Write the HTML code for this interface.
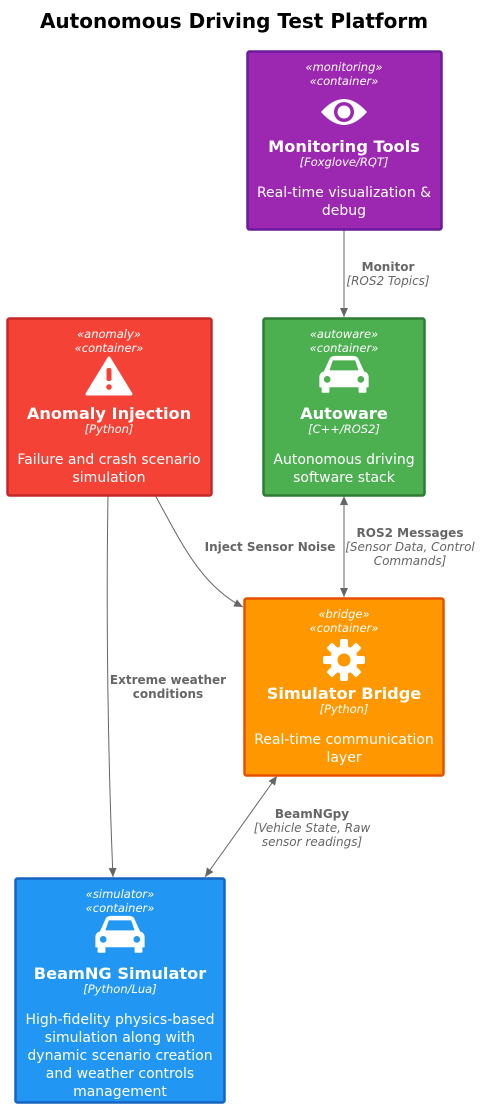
<!DOCTYPE html>
<html><head><meta charset="utf-8"><style>
html,body{margin:0;padding:0;background:#fff;}
svg{display:block;font-family:"DejaVu Sans","Liberation Sans",sans-serif;}
.st{font-size:11.5px;font-style:italic;fill:#fff;}
.tt{font-size:16.2px;font-weight:bold;fill:#fff;}
.tc{font-size:11.5px;font-style:italic;fill:#fff;}
.ds{font-size:14px;fill:#fff;}
.el{font-size:12px;font-weight:bold;fill:#666;}
.ei{font-size:12px;font-style:italic;fill:#666;}
</style></head><body>
<svg width="481" height="1109" viewBox="0 0 481 1109">
<defs><marker id="a" markerWidth="10" markerHeight="10" refX="9" refY="5" orient="auto" markerUnits="userSpaceOnUse"><path d="M0,1 L9,5 L0,9 Z" fill="#666"/></marker>
<marker id="b" markerWidth="10" markerHeight="10" refX="1" refY="5" orient="auto" markerUnits="userSpaceOnUse"><path d="M10,1 L1,5 L10,9 Z" fill="#666"/></marker></defs>
<text x="234" y="28" text-anchor="middle" font-size="20" font-weight="bold" fill="#000">Autonomous Driving Test Platform</text>

<line x1="344" y1="229" x2="344" y2="317" stroke="#666" marker-end="url(#a)"/>
<text x="388" y="271" text-anchor="middle" class="el">Monitor</text>
<text x="388" y="285" text-anchor="middle" class="ei">[ROS2 Topics]</text>

<line x1="344" y1="496" x2="344" y2="597" stroke="#666" marker-start="url(#b)" marker-end="url(#a)"/>
<text x="410" y="537" text-anchor="middle" class="el">ROS2 Messages</text>
<text x="410" y="551" text-anchor="middle" class="ei">[Sensor Data, Control</text>
<text x="410" y="565" text-anchor="middle" class="ei">Commands]</text>

<path d="M155,495 C180,540 200,585 243,607" fill="none" stroke="#666" marker-end="url(#a)"/>
<text x="270" y="551" text-anchor="middle" class="el">Inject Sensor Noise</text>

<path d="M108,495 C106,620 108,760 113,877" fill="none" stroke="#666" marker-end="url(#a)"/>
<text x="168" y="684" text-anchor="middle" class="el">Extreme weather</text>
<text x="168" y="698" text-anchor="middle" class="el">conditions</text>

<line x1="277" y1="776" x2="205" y2="877" stroke="#666" marker-start="url(#b)" marker-end="url(#a)"/>
<text x="312" y="818" text-anchor="middle" class="el">BeamNGpy</text>
<text x="312" y="832" text-anchor="middle" class="ei">[Vehicle State, Raw</text>
<text x="312" y="846" text-anchor="middle" class="ei">sensor readings]</text>

<!-- Monitoring -->
<rect x="247.5" y="51.5" width="194" height="178" rx="2" fill="#9C27B0" stroke="#6A1B9A" stroke-width="2.5"/>
<text x="344" y="71" text-anchor="middle" class="st">«monitoring»</text>
<text x="344" y="85" text-anchor="middle" class="st">«container»</text>
<path d="M321,112 Q344,86 367,112 Q344,138 321,112 Z" fill="#fff"/>
<circle cx="344" cy="112" r="10" fill="#9C27B0"/><circle cx="344" cy="112" r="6.5" fill="#fff"/>
<text x="344" y="152" text-anchor="middle" class="tt">Monitoring Tools</text>
<text x="344" y="166" text-anchor="middle" class="tc">[Foxglove/RQT]</text>
<text x="344" y="197" text-anchor="middle" class="ds">Real-time visualization &amp;</text>
<text x="344" y="215" text-anchor="middle" class="ds">debug</text>

<!-- Autoware -->
<rect x="263.5" y="318.5" width="161" height="177" rx="2" fill="#4CAF50" stroke="#2E7D32" stroke-width="2.5"/>
<text x="344" y="338" text-anchor="middle" class="st">«autoware»</text>
<text x="344" y="352" text-anchor="middle" class="st">«container»</text>
<g transform="translate(344,376) scale(1.12) translate(-344,-376)">
<g fill="#fff"><path d="M326,372 L331,361 Q332,358 336,358 L352,358 Q356,358 357,361 L362,372 Q366,373 366,377 L366,386 L322,386 L322,377 Q322,373 326,372 Z"/><rect x="324" y="385" width="7" height="6" rx="1"/><rect x="357" y="385" width="7" height="6" rx="1"/></g>
<path d="M331,371 L334,362 L354,362 L357,371 Z" fill="#4CAF50"/>
<circle cx="329" cy="379" r="3" fill="#4CAF50"/><circle cx="359" cy="379" r="3" fill="#4CAF50"/></g>
<text x="344" y="419" text-anchor="middle" class="tt">Autoware</text>
<text x="344" y="433" text-anchor="middle" class="tc">[C++/ROS2]</text>
<text x="344" y="464" text-anchor="middle" class="ds">Autonomous driving</text>
<text x="344" y="482" text-anchor="middle" class="ds">software stack</text>

<!-- Anomaly -->
<rect x="7.5" y="318.5" width="204" height="177" rx="2" fill="#F44336" stroke="#C62828" stroke-width="2.5"/>
<text x="109" y="338" text-anchor="middle" class="st">«anomaly»</text>
<text x="109" y="352" text-anchor="middle" class="st">«container»</text>
<path d="M109,358 L131,394 L87,394 Z" fill="#fff" stroke="#fff" stroke-width="3" stroke-linejoin="round"/>
<rect x="106.5" y="368" width="5" height="13" rx="2" fill="#F44336"/><circle cx="109" cy="387" r="2.8" fill="#F44336"/>
<text x="109" y="419" text-anchor="middle" class="tt">Anomaly Injection</text>
<text x="109" y="433" text-anchor="middle" class="tc">[Python]</text>
<text x="109" y="464" text-anchor="middle" class="ds">Failure and crash scenario</text>
<text x="109" y="482" text-anchor="middle" class="ds">simulation</text>

<!-- Bridge -->
<rect x="244.5" y="598.5" width="199" height="177" rx="2" fill="#FF9800" stroke="#E65100" stroke-width="2.5"/>
<text x="344" y="618" text-anchor="middle" class="st">«bridge»</text>
<text x="344" y="632" text-anchor="middle" class="st">«container»</text>
<g transform="translate(344,660)"><circle r="14" fill="#fff"/>
<g fill="#fff"><rect x="-4" y="-21" width="8" height="42" rx="2"/><rect x="-4" y="-21" width="8" height="42" rx="2" transform="rotate(45)"/><rect x="-4" y="-21" width="8" height="42" rx="2" transform="rotate(90)"/><rect x="-4" y="-21" width="8" height="42" rx="2" transform="rotate(135)"/></g>
<circle r="6.5" fill="#FF9800"/></g>
<text x="344" y="699" text-anchor="middle" class="tt">Simulator Bridge</text>
<text x="344" y="713" text-anchor="middle" class="tc">[Python]</text>
<text x="344" y="744" text-anchor="middle" class="ds">Real-time communication</text>
<text x="344" y="762" text-anchor="middle" class="ds">layer</text>

<!-- BeamNG -->
<rect x="15.5" y="878.5" width="209" height="224" rx="2" fill="#2196F3" stroke="#1565C0" stroke-width="2.5"/>
<text x="120" y="898" text-anchor="middle" class="st">«simulator»</text>
<text x="120" y="912" text-anchor="middle" class="st">«container»</text>
<g transform="translate(120,936) scale(1.12) translate(-120,-936)">
<g fill="#fff"><path d="M102,932 L107,921 Q108,918 112,918 L128,918 Q132,918 133,921 L138,932 Q142,933 142,937 L142,946 L98,946 L98,937 Q98,933 102,932 Z"/><rect x="100" y="945" width="7" height="6" rx="1"/><rect x="133" y="945" width="7" height="6" rx="1"/></g>
<path d="M107,931 L110,922 L130,922 L133,931 Z" fill="#2196F3"/>
<circle cx="105" cy="939" r="3" fill="#2196F3"/><circle cx="135" cy="939" r="3" fill="#2196F3"/></g>
<text x="120" y="979" text-anchor="middle" class="tt">BeamNG Simulator</text>
<text x="120" y="993" text-anchor="middle" class="tc">[Python/Lua]</text>
<text x="120" y="1024" text-anchor="middle" class="ds">High-fidelity physics-based</text>
<text x="120" y="1042" text-anchor="middle" class="ds">simulation along with</text>
<text x="120" y="1060" text-anchor="middle" class="ds">dynamic scenario creation</text>
<text x="120" y="1078" text-anchor="middle" class="ds">and weather controls</text>
<text x="120" y="1096" text-anchor="middle" class="ds">management</text>
</svg>
</body></html>
